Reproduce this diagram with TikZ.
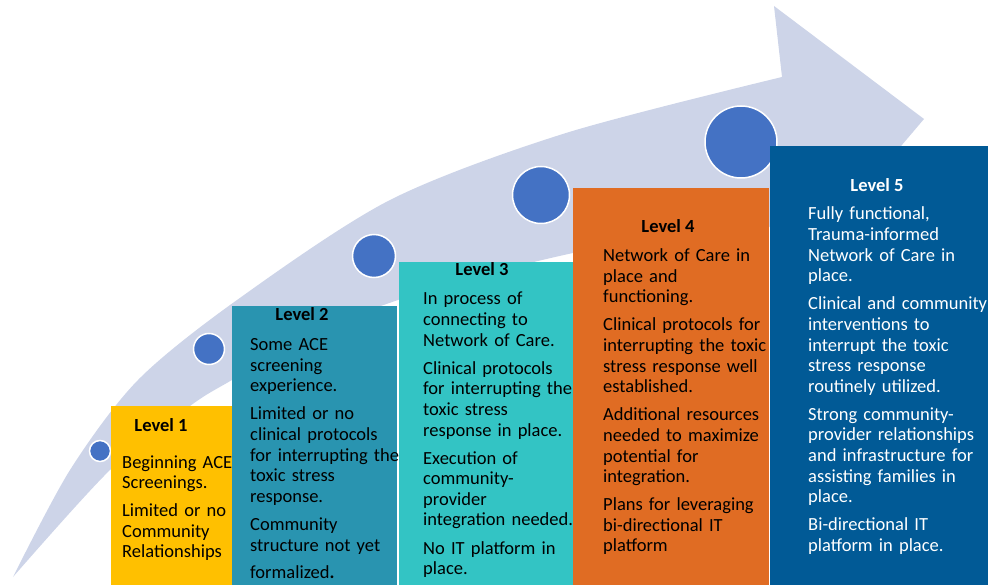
\documentclass[tikz,border=0pt]{standalone}
\usepackage{fontspec}
\setmainfont{Carlito}
\definecolor{lvlyellow}{HTML}{FFC000}
\definecolor{lvlteal}{HTML}{2994B0}
\definecolor{lvlcyan}{HTML}{33C4C4}
\definecolor{lvlorange}{HTML}{E06C23}
\definecolor{lvlblue}{HTML}{015A96}
\definecolor{dotblue}{HTML}{4472C4}
\definecolor{arrowgrey}{HTML}{CDD4E8}
\newcommand{\pgap}{7.5pt}

\begin{document}
\begin{tikzpicture}[x=1pt,y=-1pt,
  level/.style={font=\fontsize{18.5}{20.6}\selectfont\bfseries, anchor=base, inner sep=0pt},
  body/.style={font=\fontsize{18.5}{20.6}\selectfont, anchor=base west, align=left, text width=190pt, inner sep=0pt},
  dot/.style={circle, fill=dotblue, draw=white, line width=1.5pt, inner sep=0pt}]
  \useasboundingbox (0,0) rectangle (988,585);

  % curved arrow behind everything
  \fill[arrowgrey] plot[smooth] coordinates {(13,577) (70,470) (138,380) (237,300) (390,200) (566,133) (782,77)}
    -- (774,6) -- (924,119) -- (800,265) -- (760,215)
    -- plot[smooth] coordinates {(700,228) (573,253) (470,278) (398,300) (320,330) (232,380) (190,406) (110,470) (13,577)} -- cycle;

  \foreach \n/\cx/\cy/\rad in {1/100/451/10.5, 2/209/349/15.5, 3/374/256/21.5, 4/541/195/28.5, 5/741/142/36}
    \node[dot, minimum size={2*\rad*1pt}] (dot\n) at (\cx,\cy) {};

  % the five steps
  \fill[lvlyellow] (111,406) rectangle (232,585);
  \fill[lvlteal] (232,306) rectangle (397,585);
  \fill[lvlcyan] (399,262) rectangle (573,585);
  \fill[lvlorange] (573,188) rectangle (769,585);
  \fill[lvlblue] (770,146) rectangle (988,585);

  \node[level] (lvl1) at (161,431) {Level 1};
  \node[body] (txt1) at (122,468) {Beginning ACE\\Screenings.\\[\pgap]Limited or no\\Community\\Relationships};

  \node[level] (lvl2) at (302,321) {Level 2};
  \node[body] (txt2) at (250,350.7) {Some ACE\\screening\\experience.\\[\pgap]Limited or no\\clinical protocols\\for interrupting the\\toxic stress\\response.\\[\pgap]Community\\structure not yet\\[7pt]formalized\textbf{.}};

  \node[level] (lvl3) at (482,276) {Level 3};
  \node[body] (txt3) at (423,305) {In process of\\connecting to\\Network of Care.\\[\pgap]Clinical protocols\\for interrupting the\\toxic stress\\response in place.\\[\pgap]Execution of\\community-\\provider\\integration needed.\\[\pgap]No IT platform in\\place.};

  \node[level] (lvl4) at (668,232.7) {Level 4};
  \node[body] (txt4) at (603,261.7) {Network of Care in\\place and\\functioning.\\[\pgap]Clinical protocols for\\interrupting the toxic\\stress response well\\established.\\[\pgap]Additional resources\\needed to maximize\\potential for\\integration.\\[\pgap]Plans for leveraging\\bi-directional IT\\platform};

  \node[level, text=white] (lvl5) at (877,192) {Level 5};
  \node[body, text=white] (txt5) at (808,220) {Fully functional,\\Trauma-informed\\Network of Care in\\place.\\[\pgap]Clinical and community\\interventions to\\interrupt the toxic\\stress response\\routinely utilized.\\[\pgap]Strong community-\\provider relationships\\and infrastructure for\\assisting families in\\place.\\[\pgap]Bi-directional IT\\platform in place.};
\end{tikzpicture}
\end{document}
